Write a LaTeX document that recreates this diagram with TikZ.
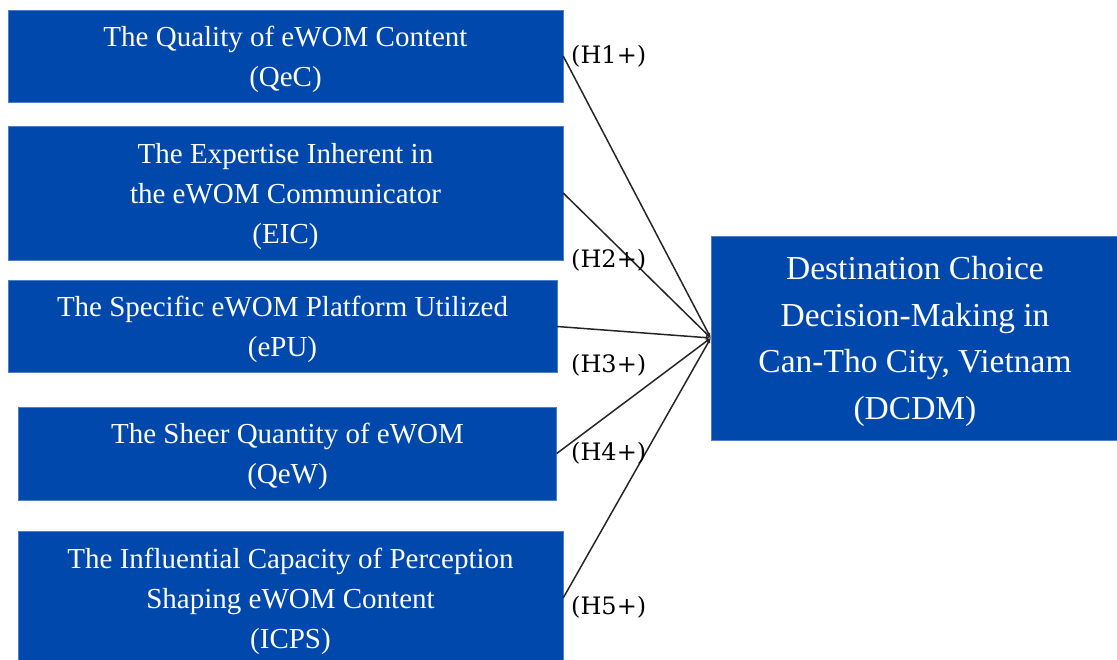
\documentclass[tikz,border=0pt]{standalone}
\usepackage{fontspec}
\setmainfont{Liberation Serif}
\newfontfamily\hypfont{DejaVu Serif}
\usetikzlibrary{positioning,arrows.meta}
\definecolor{boxblue}{RGB}{0,72,172}

\begin{document}
\begin{tikzpicture}[
    x=1pt,y=-1pt,
    >={Latex[length=5pt,width=4pt]},
    factor/.style={rectangle,fill=boxblue,draw=boxblue!70!white,text=white,align=center,inner sep=0pt,
        text depth=0pt,font=\fontsize{29}{40}\selectfont},
    outcome/.style={factor,text depth=-3pt,font=\fontsize{33.5}{46.5}\selectfont},
    hyp/.style={anchor=west,inner sep=0pt,font=\hypfont\fontsize{24}{28}\selectfont},
    arrow/.style={->,line width=1.5pt,draw=black!85}
]
\useasboundingbox (0,0) rectangle (1117,660);

% Faktoren links
\node[factor,minimum width=555pt,minimum height=92pt] (qec) at (285.5,56) {The Quality of eWOM Content\\(QeC)};
\node[factor,minimum width=555pt,minimum height=134pt] (eic) at (285.5,193) {The Expertise Inherent in\\the eWOM Communicator\\(EIC)};
\node[factor,minimum width=549pt,minimum height=92pt] (epu) at (282.5,326.5) {The Specific eWOM Platform Utilized\\(ePU)};
\node[factor,minimum width=538pt,minimum height=93pt] (qew) at (287.5,453.5) {The Sheer Quantity of eWOM\\(QeW)};
\node[factor,minimum width=545pt,minimum height=134pt] (icps) at (290.5,598) {The Influential Capacity of Perception\\Shaping eWOM Content\\(ICPS)};

% Zielgroesse rechts
\node[outcome,minimum width=408pt,minimum height=204pt] (dcdm) at (915,338) {Destination Choice\\Decision-Making in\\Can-Tho City, Vietnam\\(DCDM)};

% Pfeile
\draw[arrow] (qec.east) -- (dcdm.west);
\draw[arrow] (eic.east) -- (dcdm.west);
\draw[arrow] (epu.east) -- (dcdm.west);
\draw[arrow] (qew.east) -- (dcdm.west);
\draw[arrow] (icps.east) -- (dcdm.west);

% Hypothesen
\node[hyp] (h1) at (571,56) {(H1+)};
\node[hyp] (h2) at (571,260) {(H2+)};
\node[hyp] (h3) at (571,365) {(H3+)};
\node[hyp] (h4) at (571,453) {(H4+)};
\node[hyp] (h5) at (571,607) {(H5+)};

\end{tikzpicture}
\end{document}
